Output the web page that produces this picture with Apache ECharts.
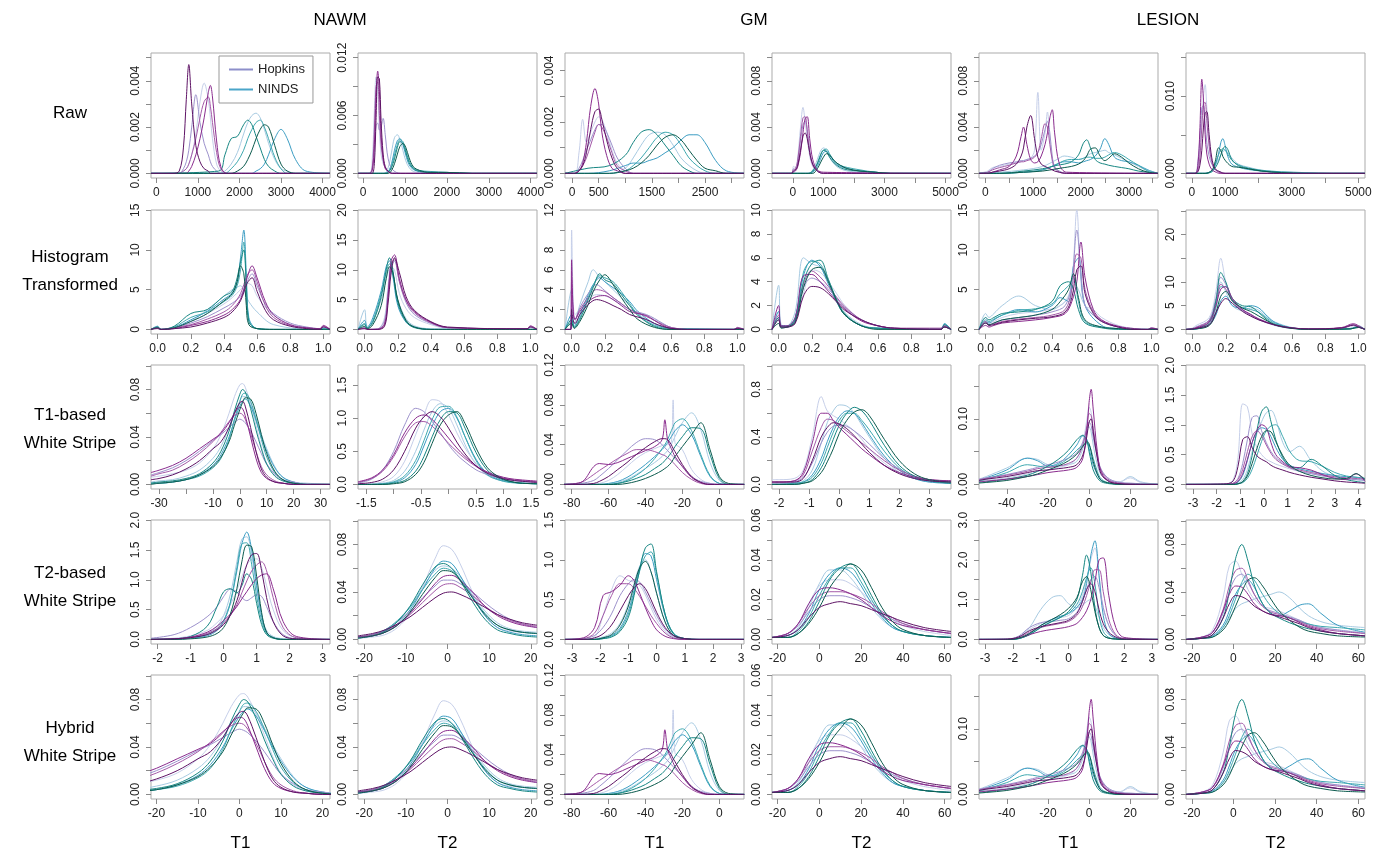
<!DOCTYPE html>
<html>
<head>
<meta charset="utf-8">
<script src="https://cdn.jsdelivr.net/npm/echarts@6/dist/echarts.min.js"></script>
<style>
  html, body { margin: 0; background: #fff; }
  #chart { width: 1382px; height: 850px; }
</style>
</head>
<body>
<div id="chart"></div>
<script>
// ---- Raw ----
const raw_nawm_t1_hx = [-130, 400, 550, 650, 720, 780, 850, 950, 1050, 1150, 1250, 1300, 1350, 1450, 1550, 1700, 4180];
const raw_nawm_t1_h = [
  [0,0,0,0.0001,0.0002,0.0004,0.0008,0.0017,0.0031,0.0039,0.0032,0.0024,0.0015,0.0004,0.0001,0,0],
  [0,0,0,0.0002,0.0005,0.0010,0.0020,0.0034,0.0022,0.0013,0.0008,0.0005,0.0003,0.0001,0,0,0],
  [0,0,0,0,0,0.0001,0.0003,0.0008,0.0015,0.0024,0.0035,0.0038,0.0033,0.0014,0.0003,0,0],
  [0,0,0.0001,0.0011,0.0032,0.0047,0.0030,0.0012,0.0005,0.0002,0.0001,0,0,0,0,0,0],
  [0,0,0,0.0001,0.0002,0.0004,0.0008,0.0015,0.0024,0.0031,0.0033,0.0029,0.0022,0.0009,0.0002,0,0]
];
const raw_nawm_t1_nx = [-130, 1500, 1650, 1800, 1950, 2100, 2200, 2300, 2400, 2500, 2600, 2700, 2850, 3000, 3150, 3350, 3600, 4180];
const raw_nawm_t1_n = [
  [0,0,0.0001,0.0004,0.0009,0.0017,0.0022,0.0025,0.0026,0.0024,0.0019,0.0013,0.0006,0.0002,0.0001,0,0,0],
  [0,0,0,0,0,0,0,0,0.0001,0.0002,0.0004,0.0008,0.0015,0.0019,0.0015,0.0006,0.0001,0],
  [0,0.0001,0.0008,0.0015,0.0016,0.0021,0.0023,0.0021,0.0016,0.0011,0.0006,0.0003,0.0001,0,0,0,0,0],
  [0,0,0,0,0.0001,0.0003,0.0006,0.0010,0.0015,0.0019,0.0021,0.0020,0.0012,0.0004,0.0001,0,0,0],
  [0,0,0,0.0002,0.0005,0.0010,0.0015,0.0019,0.0022,0.0023,0.0020,0.0015,0.0007,0.0002,0,0,0,0]
];
const raw_nawm_t2_hx = [-120, 150, 220, 270, 310, 350, 390, 430, 480, 530, 600, 700, 900, 4150];
const raw_nawm_t2_h = [
  [0,0,0.0015,0.0065,0.0100,0.0085,0.0045,0.0020,0.0010,0.0006,0.0003,0.0001,0,0],
  [0,0,0.0005,0.0025,0.0050,0.0052,0.0045,0.0048,0.0057,0.0040,0.0015,0.0004,0,0],
  [0,0,0.0003,0.0030,0.0080,0.0106,0.0085,0.0040,0.0015,0.0005,0.0002,0,0,0],
  [0,0,0,0.0010,0.0055,0.0100,0.0098,0.0055,0.0020,0.0007,0.0002,0,0,0],
  [0,0,0.0006,0.0045,0.0090,0.0095,0.0060,0.0030,0.0014,0.0006,0.0002,0,0,0]
];
const raw_nawm_t2_nx = [-120, 500, 600, 680, 750, 820, 880, 950, 1020, 1100, 1200, 1350, 1600, 2000, 2600, 4150];
const raw_nawm_t2_n = [
  [0,0,0.0006,0.0022,0.0037,0.0040,0.0035,0.0024,0.0013,0.0006,0.0002,0.0001,0,0,0,0],
  [0,0,0.0002,0.0010,0.0024,0.0034,0.0036,0.0030,0.0019,0.0009,0.0004,0.0002,0.0001,0,0,0],
  [0,0,0.0001,0.0006,0.0015,0.0027,0.0033,0.0031,0.0022,0.0011,0.0005,0.0002,0.0001,0.0001,0,0],
  [0,0,0,0.0003,0.0010,0.0020,0.0028,0.0031,0.0027,0.0016,0.0007,0.0003,0.0001,0.0001,0,0],
  [0,0,0.0001,0.0008,0.0019,0.0030,0.0035,0.0033,0.0024,0.0013,0.0006,0.0003,0.0002,0.0001,0,0]
];
const raw_gm_t1_hx = [-133, 50, 130, 200, 270, 350, 430, 500, 560, 650, 750, 850, 1000, 1150, 3234];
const raw_gm_t1_h = [
  [0,0,0.0008,0.0021,0.0012,0.0016,0.0020,0.0022,0.0021,0.0016,0.0009,0.0004,0.0001,0,0],
  [0,0,0.0002,0.0005,0.0009,0.0013,0.0017,0.0019,0.0019,0.0016,0.0011,0.0006,0.0002,0,0],
  [0,0,0.0001,0.0004,0.0012,0.0026,0.0033,0.0027,0.0016,0.0007,0.0002,0.0001,0,0,0],
  [0,0,0.0001,0.0003,0.0008,0.0017,0.0024,0.0025,0.0021,0.0013,0.0006,0.0002,0,0,0],
  [0,0,0.0001,0.0003,0.0006,0.0011,0.0016,0.0019,0.0018,0.0014,0.0008,0.0003,0.0001,0,0]
];
const raw_gm_t1_nx = [-133, 300, 700, 1000, 1150, 1300, 1450, 1600, 1750, 1900, 2050, 2200, 2350, 2500, 2700, 2900, 3234];
const raw_gm_t1_n = [
  [0,0,0,0.0002,0.0006,0.0011,0.0015,0.0016,0.0015,0.0011,0.0006,0.0003,0.0001,0,0,0,0],
  [0,0,0.0001,0.0003,0.0004,0.0004,0.0005,0.0006,0.0008,0.0010,0.0013,0.0015,0.0015,0.0012,0.0005,0.0001,0],
  [0,0.0002,0.0003,0.0007,0.0012,0.0016,0.0017,0.0015,0.0011,0.0007,0.0003,0.0001,0,0,0,0,0],
  [0,0,0,0.0001,0.0002,0.0004,0.0007,0.0011,0.0014,0.0015,0.0013,0.0009,0.0005,0.0002,0.0001,0,0],
  [0,0,0,0.0001,0.0003,0.0006,0.0010,0.0014,0.0016,0.0015,0.0011,0.0006,0.0003,0.0001,0,0,0]
];
const raw_gm_t2_hx = [-685, -50, 20, 80, 150, 250, 330, 400, 470, 550, 650, 800, 1000, 5180];
const raw_gm_t2_h = [
  [0,0,0.0006,0.0005,0.0012,0.0040,0.0057,0.0045,0.0030,0.0015,0.0006,0.0002,0,0],
  [0,0,0.0004,0.0003,0.0008,0.0028,0.0042,0.0045,0.0038,0.0020,0.0008,0.0002,0,0],
  [0,0,0.0001,0.0002,0.0005,0.0018,0.0035,0.0047,0.0049,0.0030,0.0012,0.0003,0.0001,0],
  [0,0,0.0002,0.0003,0.0006,0.0020,0.0032,0.0035,0.0030,0.0018,0.0008,0.0002,0,0],
  [0,0,0.0003,0.0004,0.0010,0.0032,0.0048,0.0049,0.0036,0.0018,0.0007,0.0002,0,0]
];
const raw_gm_t2_nx = [-685, 500, 650, 800, 900, 1000, 1100, 1200, 1350, 1550, 1800, 2200, 2700, 3200, 5180];
const raw_gm_t2_n = [
  [0,0,0.0003,0.0012,0.0019,0.0022,0.0020,0.0014,0.0008,0.0004,0.0002,0.0001,0,0,0],
  [0,0,0.0001,0.0006,0.0012,0.0018,0.0019,0.0016,0.0010,0.0006,0.0004,0.0002,0.0001,0,0],
  [0,0,0.0002,0.0008,0.0015,0.0020,0.0019,0.0014,0.0009,0.0005,0.0003,0.0002,0.0001,0,0],
  [0,0,0,0.0004,0.0009,0.0014,0.0017,0.0016,0.0011,0.0007,0.0004,0.0002,0.0001,0,0],
  [0,0,0.0002,0.0009,0.0016,0.0020,0.0021,0.0017,0.0011,0.0007,0.0005,0.0003,0.0001,0,0]
];
const raw_les_t1_hx = [-130, 50, 150, 300, 500, 650, 750, 800, 870, 950, 1030, 1100, 1170, 1250, 1300, 1350, 1400, 1450, 1550, 1700, 3610];
const raw_les_t1_h = [
  [0,0.0002,0.0005,0.0006,0.0008,0.0009,0.0010,0.0011,0.0012,0.0013,0.0020,0.0070,0.0020,0.0035,0.0053,0.0030,0.0010,0.0004,0.0001,0,0],
  [0,0.0001,0.0004,0.0007,0.0009,0.0010,0.0011,0.0011,0.0012,0.0013,0.0015,0.0018,0.0025,0.0038,0.0045,0.0035,0.0015,0.0006,0.0002,0,0],
  [0,0,0.0001,0.0003,0.0006,0.0015,0.0032,0.0040,0.0025,0.0012,0.0009,0.0010,0.0015,0.0025,0.0035,0.0048,0.0055,0.0035,0.0008,0.0001,0],
  [0,0,0.0001,0.0002,0.0004,0.0008,0.0015,0.0022,0.0040,0.0050,0.0030,0.0014,0.0008,0.0006,0.0005,0.0004,0.0003,0.0002,0.0001,0,0],
  [0,0.0001,0.0003,0.0005,0.0007,0.0009,0.0010,0.0010,0.0011,0.0012,0.0014,0.0018,0.0030,0.0043,0.0040,0.0025,0.0012,0.0005,0.0001,0,0]
];
const raw_les_t1_nx = [-130, 300, 800, 1200, 1500, 1650, 1800, 1950, 2050, 2120, 2200, 2300, 2400, 2500, 2580, 2700, 2850, 3000, 3200, 3400, 3610];
const raw_les_t1_n = [
  [0,0.0001,0.0003,0.0006,0.0012,0.0015,0.0014,0.0012,0.0013,0.0015,0.0017,0.0018,0.0019,0.0020,0.0018,0.0016,0.0013,0.0010,0.0006,0.0002,0],
  [0,0,0.0001,0.0003,0.0008,0.0010,0.0010,0.0009,0.0010,0.0011,0.0012,0.0015,0.0021,0.0030,0.0025,0.0014,0.0011,0.0010,0.0007,0.0003,0],
  [0,0,0.0002,0.0004,0.0007,0.0008,0.0010,0.0016,0.0026,0.0029,0.0022,0.0012,0.0009,0.0008,0.0007,0.0006,0.0005,0.0004,0.0002,0.0001,0],
  [0,0,0.0001,0.0002,0.0004,0.0005,0.0006,0.0008,0.0011,0.0015,0.0021,0.0022,0.0015,0.0011,0.0013,0.0017,0.0014,0.0009,0.0004,0.0001,0],
  [0,0,0.0001,0.0003,0.0008,0.0011,0.0012,0.0012,0.0013,0.0014,0.0014,0.0013,0.0013,0.0014,0.0016,0.0018,0.0016,0.0012,0.0007,0.0002,0]
];
const raw_les_t2_hx = [-175, 100, 180, 240, 300, 350, 400, 450, 520, 600, 700, 850, 1000, 5200];
const raw_les_t2_h = [
  [0,0,0.0008,0.0030,0.0070,0.0100,0.0115,0.0085,0.0040,0.0015,0.0005,0.0001,0,0],
  [0,0,0.0015,0.0045,0.0085,0.0088,0.0065,0.0040,0.0022,0.0012,0.0005,0.0002,0,0],
  [0,0,0.0010,0.0055,0.0122,0.0095,0.0050,0.0025,0.0012,0.0005,0.0002,0,0,0],
  [0,0,0.0002,0.0010,0.0030,0.0060,0.0078,0.0080,0.0050,0.0020,0.0006,0.0002,0,0],
  [0,0,0.0004,0.0020,0.0060,0.0090,0.0092,0.0068,0.0035,0.0015,0.0005,0.0001,0,0]
];
const raw_les_t2_nx = [-175, 400, 600, 700, 800, 870, 930, 1000, 1080, 1200, 1400, 1700, 2100, 2700, 3400, 4200, 5200];
const raw_les_t2_n = [
  [0,0,0.0004,0.0010,0.0018,0.0024,0.0028,0.0030,0.0027,0.0020,0.0012,0.0008,0.0004,0.0002,0.0001,0,0],
  [0,0,0.0003,0.0010,0.0025,0.0040,0.0045,0.0036,0.0022,0.0012,0.0008,0.0005,0.0003,0.0001,0,0,0],
  [0,0,0.0002,0.0007,0.0015,0.0024,0.0031,0.0035,0.0031,0.0018,0.0010,0.0006,0.0003,0.0001,0,0,0],
  [0,0,0.0004,0.0015,0.0033,0.0030,0.0022,0.0017,0.0013,0.0009,0.0008,0.0006,0.0003,0.0001,0,0,0],
  [0,0,0.0003,0.0012,0.0024,0.0030,0.0032,0.0030,0.0025,0.0017,0.0011,0.0007,0.0004,0.0002,0.0001,0,0]
];

// ---- Histogram transformed ----
const hist_nawm_t1_hx = [-0.04, 0, 0.02, 0.1, 0.2, 0.3, 0.4, 0.45, 0.5, 0.54, 0.57, 0.6, 0.65, 0.7, 0.8, 0.9, 0.98, 1.0, 1.04];
const hist_nawm_t1_h = [
  [0,0.3,0,0.3,1.0,2.0,3.2,4.0,5.0,5.8,5.5,4.2,2.8,1.8,0.6,0.2,0.1,0.4,0],
  [0,0.2,0,0.2,0.8,1.6,2.7,3.3,4.2,6.0,7.0,5.5,3.2,2.0,0.8,0.3,0.1,0.3,0],
  [0,0.2,0,0.1,0.5,1.0,1.8,2.5,3.8,6.5,8.0,6.5,3.5,1.8,0.6,0.2,0.1,0.5,0],
  [0,0.1,0,0.1,0.3,0.8,1.5,2.2,3.6,5.8,6.5,4.8,2.4,1.2,0.4,0.1,0,0.3,0],
  [0,0.2,0,0.2,0.6,1.3,2.2,3.0,4.5,6.8,7.5,6.0,3.0,1.5,0.5,0.2,0.1,0.4,0]
];
const hist_nawm_t1_nx = [-0.04, 0, 0.02, 0.1, 0.2, 0.3, 0.4, 0.45, 0.48, 0.5, 0.52, 0.535, 0.55, 0.6, 0.7, 0.98, 1.0, 1.04];
const hist_nawm_t1_n = [
  [0,0.2,0,0.3,1.0,2.5,4.2,5.0,5.3,5.5,5.0,4.2,3.5,2.2,0.6,0,0.2,0],
  [0,0.4,0,0.2,1.2,2.3,3.8,4.6,6,9,12.5,7,1.5,0.1,0,0,0.1,0],
  [0,0.3,0,0.4,2.0,2.5,4.2,4.8,6.5,8.5,10,5.5,1.0,0.1,0,0,0,0],
  [0,0.2,0,0.2,1.0,2.0,3.6,4.5,6.0,8.0,7.0,3.0,0.6,0.1,0,0,0,0],
  [0,0.3,0,0.3,1.5,2.2,3.5,4.3,5.5,7.5,11,6,1.2,0.1,0,0,0.1,0]
];
const hist_nawm_t2_hx = [-0.04, 0, 0.02, 0.08, 0.12, 0.14, 0.16, 0.18, 0.21, 0.25, 0.3, 0.4, 0.5, 0.98, 1.0, 1.04];
const hist_nawm_t2_h = [
  [0,0.5,0,0.1,2,7,10.5,10,6,3.5,2.0,0.8,0.2,0.1,0.4,0],
  [0,0.3,0,0.1,1.5,6,10,11.5,8,4.5,2.5,1.0,0.3,0.1,0.3,0],
  [0,0.2,0,0,0.8,5,11.5,12.5,8.5,5,3,1.2,0.3,0.1,0.6,0],
  [0,0.1,0,0,0.5,4,9.5,12,9.5,5.5,3.2,1.3,0.4,0.1,0.4,0],
  [0,0.2,0,0.05,1.0,5.5,10.8,11.8,8.0,4.8,2.8,1.1,0.3,0.1,0.5,0]
];
const hist_nawm_t2_nx = [-0.04, 0, 0.015, 0.05, 0.1, 0.13, 0.15, 0.17, 0.2, 0.25, 0.3, 0.4, 1.04];
const hist_nawm_t2_n = [
  [0,3.3,0.5,1.5,5,8.5,10,9,5,1.8,0.6,0.1,0],
  [0,1.5,0.3,2.0,6.5,10.5,11.5,9,4,1.2,0.4,0,0],
  [0,0.8,0.2,1.2,5.5,10,12,10,4.5,1.3,0.3,0,0],
  [0,0.5,0.1,0.8,4,8.5,10.5,9.5,5,1.5,0.4,0,0],
  [0,1.0,0.2,1.5,6,9.5,11,9.5,4.8,1.5,0.4,0,0]
];
const hist_gm_t1_hx = [-0.04, -0.005, 0, 0.008, 0.02, 0.05, 0.1, 0.15, 0.2, 0.25, 0.3, 0.35, 0.45, 0.5, 0.55, 0.6, 0.7, 0.98, 1.0, 1.04];
const hist_gm_t1_h = [
  [0,0,10,4,1.5,2,3,3.5,3.4,3.0,2.5,2.0,1.4,1.0,0.6,0.2,0,0,0.1,0],
  [0,0,4,2,1,2.2,3.6,4.5,3.9,3.2,2.6,2.0,1.5,1.1,0.6,0.2,0,0,0.1,0],
  [0,0,7,2.5,1,1.8,2.8,3.3,3.4,3.0,2.4,1.8,1.4,0.9,0.4,0.1,0,0,0.2,0],
  [0,0,2,1,0.6,1.5,2.5,3.0,2.8,2.4,2.0,1.5,1.0,0.6,0.3,0.1,0,0,0.1,0],
  [0,0,5,2,1,2,3.2,4.0,3.8,3.2,2.6,2.0,1.3,0.9,0.5,0.2,0,0,0.1,0]
];
const hist_gm_t1_nx = [-0.04, 0, 0.015, 0.05, 0.1, 0.13, 0.17, 0.2, 0.25, 0.3, 0.35, 0.4, 0.5, 0.6, 1.04];
const hist_gm_t1_n = [
  [0,4,0.5,2.5,4.8,6.0,5.2,4.8,4.0,3.2,2.4,1.6,0.5,0.1,0],
  [0,1.5,0.3,1.5,3.5,4.5,5.2,4.8,4.2,3.6,2.8,1.8,0.6,0.1,0],
  [0,1.0,0.2,1.0,3.0,4.2,5.6,5.0,4.6,3.5,2.4,1.4,0.3,0,0],
  [0,0.6,0.1,0.8,2.5,3.8,5.0,5.5,4.5,3.2,2.0,1.0,0.2,0,0],
  [0,0.8,0.2,1.2,3.2,4.4,5.4,5.2,4.8,3.8,2.6,1.5,0.4,0.1,0]
];
const hist_gm_t2_hx = [-0.04, 0, 0.015, 0.05, 0.1, 0.15, 0.2, 0.25, 0.3, 0.35, 0.4, 0.5, 0.6, 0.7, 0.98, 1.0, 1.04];
const hist_gm_t2_h = [
  [0,1.5,0.3,0.2,0.8,3.0,5.0,4.8,4.0,3.0,2.0,0.8,0.3,0.1,0,0.2,0],
  [0,1,0.2,0.2,0.6,3.5,4.3,4.0,3.4,2.6,1.8,0.8,0.3,0.1,0,0.2,0],
  [0,2,0.3,0.3,1.0,4.5,4.6,4.0,3.2,2.4,1.7,0.7,0.3,0.1,0.1,0.3,0],
  [0,0.8,0.2,0.2,0.5,2.8,3.6,3.5,3.0,2.3,1.6,0.8,0.3,0.1,0,0.2,0],
  [0,1.2,0.2,0.2,0.7,3.8,4.9,4.4,3.6,2.7,1.9,0.8,0.3,0.1,0,0.2,0]
];
const hist_gm_t2_nx = [-0.04, 0, 0.015, 0.05, 0.1, 0.15, 0.2, 0.25, 0.3, 0.35, 0.4, 0.5, 0.6, 0.98, 1.0, 1.04];
const hist_gm_t2_n = [
  [0,3.7,0.4,0.3,1.5,6.0,5.5,5.2,4.0,2.5,1.4,0.4,0.1,0,0.3,0],
  [0,1.5,0.3,0.3,1.0,4.5,5.8,5.3,3.8,2.3,1.2,0.3,0.1,0,0.5,0],
  [0,1,0.2,0.2,0.8,4,5.5,5.8,4.2,2.5,1.3,0.3,0.1,0,0.4,0],
  [0,0.5,0.1,0.2,0.6,3.5,5.0,5.2,4.0,2.4,1.2,0.3,0,0,0.2,0],
  [0,0.8,0.2,0.2,0.9,4.8,5.7,5.5,4.1,2.4,1.2,0.3,0.1,0,0.4,0]
];
const hist_les_t1_hx = [-0.04, 0, 0.02, 0.05, 0.1, 0.2, 0.3, 0.4, 0.48, 0.52, 0.55, 0.575, 0.6, 0.65, 0.7, 0.8, 0.9, 0.98, 1.0, 1.04];
const hist_les_t1_h = [
  [0,1.5,0.8,1.0,1.5,2.0,2.2,2.6,3.5,6,15,6,3.0,2.5,1.5,0.5,0.1,0,0.2,0],
  [0,1,0.5,0.8,1.2,1.5,1.8,2.2,3.0,6,12.5,7,3,1.8,1.0,0.3,0,0,0.1,0],
  [0,0.5,0.3,0.5,0.8,1.0,1.2,1.5,2.0,3.5,6,11,6.5,2.5,1.2,0.4,0.1,0,0.2,0],
  [0,0.8,0.5,0.6,0.9,1.2,1.4,1.6,2.2,4,7.5,8,4.5,2.0,1.0,0.3,0,0,0.1,0],
  [0,1,0.6,0.7,1.0,1.3,1.5,1.8,2.5,5,9.5,9,5,2.2,1.1,0.3,0,0,0.1,0]
];
const hist_les_t1_nx = [-0.04, 0, 0.02, 0.05, 0.1, 0.2, 0.3, 0.4, 0.45, 0.5, 0.53, 0.56, 0.6, 0.7, 0.8, 0.9, 1.04];
const hist_les_t1_n = [
  [0,2.0,1.5,2.0,3.0,4.2,3.0,2.5,3.0,4.0,6.0,5.0,3.0,1.0,0.3,0,0],
  [0,1,0.8,1.2,1.8,2.5,2.2,3.0,4.0,3.5,8,9,3.0,0.5,0.1,0,0],
  [0,1.5,1.2,1.5,2.0,2.2,2.5,3.5,5.5,6.0,5.0,2.5,0.8,0.2,0,0,0],
  [0,0.8,0.6,0.8,1.2,1.5,1.8,2.5,3.5,5.0,7.0,4.0,1.2,0.3,0.1,0,0],
  [0,1.2,1.0,1.3,1.8,2.4,2.6,3.2,4.5,5.5,6.5,3.5,1.0,0.3,0.1,0,0]
];
const hist_les_t2_hx = [-0.04, 0, 0.02, 0.1, 0.14, 0.17, 0.2, 0.24, 0.3, 0.35, 0.4, 0.5, 0.6, 0.7, 0.9, 0.97, 1.0, 1.04];
const hist_les_t2_h = [
  [0,0.3,0.8,2.5,8,15,10,6,4,3,2.2,1.0,0.3,0.1,0.3,1.0,0.6,0],
  [0,0.2,0.5,2,6.5,11,9.5,6,4,3,2,0.8,0.2,0.1,0.2,0.8,0.5,0],
  [0,0.1,0.3,1.5,5,8.5,9,6.5,4.2,3.2,2.2,0.9,0.3,0.1,0.4,1.2,0.8,0],
  [0,0.1,0.2,1,3.5,5.5,6.5,5.5,3.8,2.8,2.0,0.9,0.3,0.1,0.3,0.9,0.5,0],
  [0,0.2,0.4,1.8,5.5,9.5,8.5,6.2,4.2,3.1,2.1,0.9,0.3,0.1,0.3,1.0,0.6,0]
];
const hist_les_t2_nx = [-0.04, 0.02, 0.1, 0.14, 0.17, 0.2, 0.24, 0.3, 0.35, 0.4, 0.45, 0.5, 0.6, 0.7, 0.95, 1.0, 1.04];
const hist_les_t2_n = [
  [0,0.2,2,6,10,8,5,4,4.5,4,2.5,1.5,0.4,0.1,0.2,0.8,0],
  [0,0.1,1,3,6,7,5,4.5,5,4.5,2.8,1.4,0.3,0.1,0.2,0.6,0],
  [0,0.2,1.5,6,12,10,6.5,5,4.8,3.5,2,1.0,0.3,0,0.1,0.5,0],
  [0,0.1,0.8,3.5,7,8,6,4.5,3.8,2.8,1.8,0.9,0.2,0,0.1,0.4,0],
  [0,0.1,1.2,4.5,9,9,6,4.6,4.2,3.6,2.3,1.2,0.3,0,0.1,0.5,0]
];

// ---- T1-based White Stripe (also the T1 columns of Hybrid) ----
const ws1_nawm_t1_x = [-33, -30, -25, -20, -15, -10, -7, -4, -2, 0, 1, 2, 4, 6, 8, 10, 13, 16, 20, 25, 33.5];
const ws1_nawm_t1_h = [
  [0.006,0.007,0.009,0.012,0.018,0.030,0.042,0.060,0.074,0.084,0.085,0.082,0.068,0.050,0.032,0.018,0.008,0.003,0.001,0,0],
  [0.008,0.010,0.014,0.020,0.028,0.037,0.042,0.048,0.052,0.055,0.054,0.052,0.045,0.036,0.026,0.017,0.009,0.004,0.002,0,0],
  [0.010,0.012,0.016,0.022,0.030,0.038,0.043,0.052,0.060,0.065,0.064,0.058,0.040,0.022,0.010,0.005,0.002,0.001,0,0,0],
  [0.004,0.005,0.008,0.013,0.020,0.030,0.036,0.048,0.060,0.069,0.070,0.066,0.048,0.028,0.013,0.006,0.002,0.001,0,0,0],
  [0.007,0.009,0.012,0.018,0.026,0.036,0.044,0.053,0.058,0.060,0.059,0.055,0.043,0.028,0.015,0.008,0.003,0.001,0,0,0]
];
const ws1_nawm_t1_n = [
  [0.002,0.003,0.004,0.007,0.012,0.022,0.032,0.048,0.060,0.070,0.074,0.074,0.068,0.056,0.042,0.030,0.015,0.006,0.002,0.001,0],
  [0.001,0.001,0.002,0.004,0.008,0.016,0.025,0.040,0.054,0.066,0.070,0.072,0.066,0.054,0.040,0.028,0.014,0.006,0.002,0,0],
  [0.001,0.002,0.003,0.005,0.009,0.018,0.028,0.045,0.062,0.076,0.080,0.078,0.064,0.046,0.030,0.017,0.007,0.003,0.001,0,0],
  [0,0.001,0.002,0.004,0.008,0.015,0.023,0.036,0.050,0.063,0.069,0.073,0.072,0.060,0.042,0.026,0.011,0.004,0.001,0,0],
  [0.001,0.001,0.002,0.004,0.007,0.014,0.022,0.038,0.055,0.070,0.076,0.077,0.070,0.055,0.038,0.023,0.010,0.004,0.001,0,0]
];
const ws1_nawm_t2_x = [-1.65, -1.4, -1.2, -1.0, -0.8, -0.6, -0.45, -0.3, -0.15, 0, 0.15, 0.3, 0.5, 0.7, 0.9, 1.1, 1.3, 1.61];
const ws1_nawm_t2_h = [
  [0,0.01,0.04,0.12,0.35,0.75,1.05,1.28,1.25,1.05,0.78,0.55,0.32,0.18,0.10,0.06,0.04,0.02],
  [0.02,0.08,0.22,0.5,0.9,1.15,1.1,0.95,0.78,0.6,0.45,0.34,0.22,0.15,0.10,0.07,0.05,0.03],
  [0.04,0.10,0.22,0.45,0.78,1.0,1.05,0.98,0.85,0.7,0.55,0.42,0.28,0.19,0.13,0.09,0.07,0.05],
  [0.01,0.03,0.08,0.22,0.5,0.85,1.02,1.1,1.02,0.85,0.64,0.46,0.28,0.17,0.11,0.07,0.05,0.03],
  [0.03,0.09,0.2,0.42,0.72,0.93,0.95,0.88,0.76,0.62,0.5,0.39,0.27,0.18,0.12,0.08,0.06,0.04]
];
const ws1_nawm_t2_n = [
  [0,0,0.02,0.06,0.2,0.5,0.82,1.1,1.22,1.15,0.9,0.6,0.3,0.14,0.07,0.04,0.02,0.01],
  [0,0,0.01,0.03,0.1,0.3,0.58,0.88,1.1,1.15,1.0,0.72,0.38,0.17,0.08,0.04,0.02,0.01],
  [0,0,0,0.02,0.06,0.2,0.42,0.72,0.98,1.1,1.08,0.85,0.48,0.22,0.1,0.05,0.02,0.01],
  [0,0,0,0.01,0.04,0.15,0.33,0.62,0.9,1.05,1.1,0.92,0.55,0.26,0.12,0.05,0.02,0.01],
  [0,0,0.01,0.04,0.13,0.36,0.66,0.98,1.17,1.18,1.02,0.72,0.36,0.15,0.07,0.03,0.02,0.01]
];
const ws1_gm_t1_x = [-85, -75, -68, -65, -60, -55, -50, -45, -40, -35, -31, -29.5, -28, -26, -25, -24, -20, -15, -10, -5, 0, 5, 13.5];
const ws1_gm_t1_h = [
  [0,0,0,0.001,0.004,0.010,0.018,0.026,0.032,0.036,0.039,0.040,0.040,0.042,0.085,0.042,0.035,0.015,0.005,0.001,0,0,0],
  [0,0.001,0.004,0.008,0.016,0.025,0.034,0.042,0.046,0.045,0.040,0.037,0.034,0.030,0.028,0.026,0.018,0.008,0.003,0.001,0,0,0],
  [0,0.002,0.018,0.021,0.020,0.022,0.026,0.030,0.034,0.038,0.045,0.065,0.045,0.036,0.032,0.028,0.018,0.007,0.002,0,0,0,0],
  [0,0,0.001,0.003,0.008,0.015,0.022,0.030,0.037,0.043,0.046,0.046,0.045,0.040,0.036,0.033,0.020,0.008,0.002,0,0,0,0],
  [0,0.002,0.010,0.014,0.020,0.026,0.031,0.035,0.035,0.033,0.030,0.029,0.027,0.024,0.022,0.020,0.012,0.005,0.001,0,0,0,0]
];
const ws1_gm_t1_n = [
  [0,0,0,0,0,0.002,0.005,0.010,0.016,0.022,0.028,0.031,0.034,0.040,0.044,0.048,0.062,0.072,0.055,0.022,0.004,0,0],
  [0,0,0,0,0.001,0.003,0.007,0.013,0.020,0.028,0.035,0.038,0.042,0.048,0.051,0.054,0.060,0.050,0.028,0.008,0.001,0,0],
  [0,0,0,0,0,0.001,0.003,0.006,0.010,0.016,0.021,0.024,0.027,0.032,0.035,0.038,0.048,0.057,0.056,0.030,0.006,0,0],
  [0,0,0,0,0,0,0.001,0.003,0.006,0.010,0.014,0.016,0.018,0.022,0.025,0.028,0.038,0.050,0.062,0.035,0.008,0.001,0],
  [0,0,0,0,0,0.001,0.004,0.009,0.016,0.026,0.036,0.040,0.045,0.054,0.058,0.062,0.066,0.054,0.030,0.009,0.001,0,0]
];
const ws1_gm_t2_x = [-2.24, -2, -1.5, -1.2, -0.9, -0.6, -0.4, -0.2, 0, 0.25, 0.5, 0.75, 1, 1.5, 2, 2.5, 3, 3.72];
const ws1_gm_t2_h = [
  [0.04,0.04,0.05,0.12,0.40,0.74,0.62,0.58,0.55,0.50,0.45,0.38,0.30,0.18,0.10,0.05,0.03,0.01],
  [0.01,0.01,0.02,0.06,0.18,0.35,0.44,0.49,0.50,0.49,0.45,0.40,0.34,0.22,0.13,0.07,0.04,0.02],
  [0.02,0.02,0.03,0.10,0.35,0.60,0.60,0.54,0.48,0.42,0.36,0.30,0.25,0.16,0.10,0.06,0.04,0.03],
  [0.02,0.02,0.02,0.05,0.20,0.40,0.48,0.52,0.51,0.47,0.41,0.34,0.27,0.16,0.09,0.05,0.03,0.02],
  [0.02,0.02,0.03,0.08,0.28,0.48,0.55,0.54,0.50,0.45,0.40,0.35,0.30,0.20,0.12,0.07,0.04,0.03]
];
const ws1_gm_t2_n = [
  [0,0,0.01,0.03,0.12,0.35,0.52,0.62,0.67,0.66,0.60,0.50,0.40,0.22,0.10,0.05,0.02,0.01],
  [0,0,0.01,0.02,0.08,0.22,0.36,0.48,0.57,0.62,0.60,0.52,0.42,0.24,0.12,0.05,0.02,0.01],
  [0,0,0,0.01,0.04,0.14,0.25,0.38,0.50,0.60,0.65,0.62,0.54,0.33,0.16,0.07,0.03,0.01],
  [0,0,0,0.01,0.03,0.10,0.19,0.30,0.43,0.54,0.61,0.63,0.58,0.38,0.20,0.09,0.04,0.02],
  [0,0,0.01,0.02,0.06,0.18,0.31,0.44,0.54,0.60,0.60,0.54,0.46,0.28,0.14,0.06,0.03,0.01]
];
const ws1_les_t1_x = [-53.5, -50, -40, -30, -25, -20, -15, -10, -6, -3, -1, 0, 1, 2, 4, 6, 10, 15, 20, 25, 33.5];
const ws1_les_t1_h = [
  [0.005,0.006,0.010,0.016,0.020,0.022,0.026,0.030,0.040,0.065,0.100,0.118,0.110,0.085,0.045,0.022,0.008,0.004,0.010,0.003,0],
  [0.008,0.010,0.015,0.022,0.026,0.030,0.034,0.040,0.048,0.065,0.085,0.095,0.090,0.072,0.042,0.022,0.008,0.003,0.002,0.001,0],
  [0.004,0.005,0.008,0.012,0.015,0.018,0.020,0.022,0.026,0.040,0.085,0.125,0.145,0.115,0.050,0.018,0.004,0.001,0,0,0],
  [0.006,0.008,0.012,0.018,0.021,0.022,0.024,0.026,0.030,0.045,0.075,0.095,0.100,0.080,0.040,0.015,0.004,0.001,0,0,0],
  [0.007,0.009,0.014,0.020,0.024,0.026,0.028,0.032,0.040,0.060,0.090,0.108,0.105,0.085,0.045,0.020,0.006,0.002,0.001,0,0]
];
const ws1_les_t1_n = [
  [0.008,0.012,0.025,0.040,0.038,0.030,0.028,0.030,0.035,0.055,0.080,0.088,0.080,0.060,0.030,0.014,0.006,0.004,0.012,0.004,0],
  [0.006,0.010,0.022,0.040,0.036,0.028,0.032,0.045,0.060,0.074,0.068,0.055,0.042,0.030,0.015,0.006,0.002,0.001,0.001,0,0],
  [0.003,0.004,0.008,0.014,0.020,0.028,0.038,0.052,0.068,0.075,0.065,0.050,0.035,0.022,0.010,0.004,0.001,0,0,0,0],
  [0.002,0.003,0.006,0.012,0.016,0.022,0.028,0.036,0.046,0.058,0.065,0.062,0.050,0.035,0.016,0.006,0.002,0,0,0,0],
  [0.005,0.008,0.018,0.030,0.028,0.026,0.030,0.040,0.052,0.060,0.062,0.060,0.052,0.040,0.020,0.008,0.002,0.001,0,0,0]
];
const ws1_les_t2_x = [-3.3, -1.6, -1.3, -1.1, -0.9, -0.7, -0.5, -0.3, -0.1, 0.1, 0.3, 0.5, 0.8, 1.1, 1.5, 2.0, 2.5, 3.0, 3.5, 3.9, 4.28];
const ws1_les_t2_h = [
  [0,0.01,0.08,0.45,1.35,1.30,0.85,0.62,0.50,0.42,0.38,0.34,0.30,0.26,0.22,0.18,0.15,0.12,0.10,0.09,0.08],
  [0,0,0.02,0.10,0.35,0.75,1.12,1.15,0.90,0.70,0.55,0.45,0.36,0.28,0.22,0.18,0.14,0.11,0.09,0.08,0.07],
  [0,0,0.01,0.05,0.18,0.42,0.70,0.90,1.00,0.95,0.70,0.50,0.38,0.30,0.28,0.24,0.16,0.10,0.08,0.18,0.05],
  [0,0.01,0.06,0.30,0.75,0.80,0.62,0.48,0.42,0.38,0.32,0.28,0.24,0.20,0.16,0.12,0.09,0.06,0.04,0.03,0.02],
  [0,0,0.02,0.08,0.25,0.55,0.80,0.90,0.82,0.66,0.52,0.42,0.34,0.28,0.24,0.20,0.16,0.13,0.11,0.10,0.09]
];
const ws1_les_t2_n = [
  [0,0,0,0.02,0.08,0.25,0.55,0.85,1.05,1.20,1.24,1.10,0.70,0.55,0.64,0.40,0.22,0.14,0.10,0.08,0.06],
  [0,0,0.01,0.04,0.15,0.40,0.70,0.88,0.95,0.92,0.80,0.62,0.42,0.32,0.26,0.22,0.18,0.15,0.13,0.12,0.10],
  [0,0,0,0.01,0.05,0.18,0.48,0.90,1.22,1.30,1.05,0.75,0.45,0.30,0.28,0.42,0.30,0.15,0.08,0.05,0.03],
  [0,0,0,0.01,0.04,0.14,0.35,0.60,0.80,0.90,0.88,0.72,0.48,0.32,0.22,0.15,0.11,0.09,0.10,0.18,0.08],
  [0,0,0,0.01,0.03,0.10,0.25,0.48,0.72,0.90,0.98,1.00,0.80,0.55,0.40,0.38,0.30,0.20,0.14,0.12,0.10]
];

// ---- T2-based White Stripe (also the T2 columns of Hybrid) ----
const ws2_nawm_t1_x = [-2.2, -1.5, -1, -0.5, -0.2, 0, 0.2, 0.4, 0.55, 0.7, 0.85, 1.0, 1.15, 1.3, 1.5, 1.8, 2.2, 3.22];
const ws2_nawm_t1_h = [
  [0.01,0.02,0.06,0.15,0.28,0.40,0.58,0.82,1.05,1.25,1.34,1.35,1.20,0.90,0.50,0.15,0.03,0],
  [0.02,0.08,0.20,0.38,0.55,0.72,0.84,0.80,0.70,0.65,0.70,0.75,0.72,0.55,0.30,0.08,0.01,0],
  [0,0.01,0.04,0.12,0.22,0.32,0.42,0.55,0.68,0.80,0.92,1.02,1.08,1.10,0.85,0.30,0.05,0],
  [0,0.01,0.03,0.08,0.16,0.25,0.40,0.65,0.95,1.25,1.42,1.44,1.15,0.70,0.30,0.06,0.01,0],
  [0,0.01,0.03,0.10,0.18,0.28,0.40,0.58,0.78,0.98,1.15,1.25,1.30,1.15,0.70,0.20,0.03,0]
];
const ws2_nawm_t1_n = [
  [0,0.01,0.03,0.10,0.22,0.40,0.75,1.30,1.68,1.72,1.40,0.85,0.40,0.15,0.05,0.01,0,0],
  [0,0,0.02,0.06,0.15,0.30,0.60,1.15,1.60,1.80,1.50,0.90,0.40,0.12,0.03,0,0,0],
  [0,0.01,0.05,0.22,0.55,0.80,0.85,0.78,0.90,1.10,1.00,0.60,0.25,0.08,0.02,0,0,0],
  [0,0,0.01,0.04,0.10,0.20,0.42,0.85,1.30,1.58,1.55,1.05,0.45,0.12,0.03,0,0,0],
  [0,0.01,0.03,0.08,0.18,0.32,0.62,1.20,1.60,1.62,1.25,0.72,0.32,0.10,0.03,0,0,0]
];
const ws2_nawm_t2_x = [-21.5, -18, -15, -12, -9, -6, -3, -1, 1, 3, 6, 9, 12, 15, 18, 21.5];
const ws2_nawm_t2_h = [
  [0.001,0.002,0.004,0.010,0.022,0.044,0.068,0.079,0.076,0.064,0.040,0.020,0.010,0.007,0.006,0.005],
  [0.002,0.004,0.008,0.015,0.024,0.035,0.045,0.050,0.050,0.047,0.040,0.031,0.023,0.017,0.013,0.010],
  [0.002,0.003,0.006,0.012,0.022,0.034,0.047,0.053,0.054,0.050,0.040,0.028,0.020,0.015,0.012,0.010],
  [0.003,0.005,0.008,0.013,0.019,0.027,0.035,0.039,0.040,0.038,0.033,0.027,0.021,0.017,0.014,0.012],
  [0.002,0.004,0.007,0.013,0.021,0.031,0.041,0.046,0.047,0.044,0.037,0.028,0.021,0.016,0.013,0.011]
];
const ws2_nawm_t2_n = [
  [0.002,0.004,0.008,0.016,0.028,0.044,0.058,0.062,0.060,0.053,0.038,0.024,0.014,0.009,0.007,0.006],
  [0.001,0.003,0.006,0.013,0.025,0.042,0.060,0.066,0.064,0.054,0.036,0.020,0.010,0.006,0.004,0.003],
  [0.002,0.003,0.007,0.015,0.028,0.046,0.061,0.064,0.060,0.050,0.032,0.017,0.008,0.005,0.003,0.002],
  [0.001,0.003,0.006,0.012,0.023,0.038,0.052,0.058,0.057,0.050,0.035,0.021,0.012,0.008,0.006,0.005],
  [0.002,0.004,0.008,0.016,0.027,0.042,0.055,0.060,0.058,0.051,0.036,0.022,0.012,0.008,0.006,0.005]
];
const ws2_gm_t1_x = [-3.25, -2.6, -2.2, -1.9, -1.6, -1.3, -1.0, -0.8, -0.6, -0.4, -0.2, 0, 0.3, 0.6, 1.0, 1.5, 3.1];
const ws2_gm_t1_h = [
  [0,0,0.03,0.3,0.62,0.80,0.74,0.72,0.68,0.56,0.40,0.25,0.10,0.03,0.01,0,0],
  [0,0.01,0.05,0.15,0.32,0.55,0.70,0.75,0.72,0.60,0.45,0.30,0.13,0.04,0.01,0,0],
  [0,0.02,0.15,0.55,0.60,0.68,0.80,0.74,0.58,0.40,0.24,0.12,0.04,0.01,0,0,0],
  [0,0,0.02,0.07,0.18,0.36,0.55,0.65,0.70,0.64,0.50,0.34,0.15,0.05,0.01,0,0],
  [0,0.01,0.08,0.30,0.55,0.70,0.70,0.64,0.54,0.42,0.30,0.20,0.08,0.02,0,0,0]
];
const ws2_gm_t1_n = [
  [0,0,0.01,0.03,0.08,0.20,0.45,0.70,0.92,1.00,0.85,0.58,0.22,0.05,0.01,0,0],
  [0,0,0,0.02,0.05,0.14,0.36,0.62,0.90,1.08,1.05,0.75,0.30,0.07,0.01,0,0],
  [0,0,0,0.01,0.03,0.10,0.28,0.55,0.88,1.15,1.20,0.85,0.32,0.07,0.01,0,0],
  [0,0,0,0.02,0.06,0.18,0.42,0.68,0.90,0.98,0.85,0.58,0.22,0.05,0.01,0,0],
  [0,0,0,0.01,0.04,0.12,0.32,0.58,0.86,1.05,1.10,0.82,0.32,0.08,0.01,0,0]
];
const ws2_gm_t2_x = [-22.6, -15, -10, -5, 0, 5, 10, 15, 20, 25, 30, 35, 40, 50, 63];
const ws2_gm_t2_h = [
  [0.001,0.003,0.008,0.018,0.027,0.030,0.030,0.028,0.024,0.019,0.014,0.010,0.007,0.004,0.002],
  [0.001,0.003,0.007,0.014,0.020,0.022,0.022,0.021,0.019,0.016,0.013,0.010,0.008,0.005,0.003],
  [0.001,0.003,0.008,0.018,0.025,0.026,0.025,0.023,0.020,0.016,0.012,0.009,0.007,0.005,0.003],
  [0.001,0.002,0.005,0.011,0.016,0.018,0.019,0.018,0.017,0.015,0.013,0.011,0.009,0.006,0.004],
  [0.001,0.003,0.008,0.016,0.022,0.024,0.024,0.023,0.021,0.018,0.014,0.011,0.008,0.005,0.003]
];
const ws2_gm_t2_n = [
  [0.001,0.002,0.006,0.016,0.028,0.035,0.035,0.031,0.024,0.016,0.010,0.006,0.004,0.002,0.001],
  [0.001,0.002,0.005,0.013,0.025,0.033,0.036,0.034,0.027,0.018,0.011,0.006,0.004,0.002,0.001],
  [0.001,0.001,0.003,0.009,0.019,0.030,0.036,0.038,0.032,0.022,0.013,0.007,0.004,0.002,0.001],
  [0.001,0.001,0.003,0.008,0.016,0.026,0.033,0.038,0.035,0.026,0.016,0.009,0.005,0.002,0.001],
  [0.001,0.001,0.004,0.011,0.022,0.031,0.036,0.036,0.029,0.020,0.012,0.007,0.004,0.002,0.001]
];
const ws2_les_t1_x = [-3.22, -2.2, -1.8, -1.4, -1.0, -0.6, -0.3, 0, 0.3, 0.5, 0.65, 0.8, 0.95, 1.1, 1.25, 1.45, 1.7, 2.0, 3.22];
const ws2_les_t1_h = [
  [0,0,0.05,0.25,0.40,0.50,0.55,0.60,0.80,1.10,1.50,2.00,2.30,1.60,0.80,0.35,0.10,0.02,0],
  [0,0.01,0.08,0.30,0.42,0.45,0.48,0.52,0.68,0.95,1.25,1.50,1.58,1.30,0.80,0.35,0.10,0.02,0],
  [0,0,0.03,0.12,0.20,0.25,0.28,0.32,0.40,0.55,0.72,1.00,1.45,2.00,2.05,1.10,0.30,0.05,0],
  [0,0.01,0.06,0.22,0.32,0.38,0.42,0.48,0.65,0.95,1.25,1.40,1.20,0.75,0.40,0.18,0.06,0.01,0],
  [0,0,0.04,0.18,0.30,0.36,0.40,0.45,0.60,0.82,1.10,1.45,1.75,1.75,1.20,0.50,0.12,0.02,0]
];
const ws2_les_t1_n = [
  [0,0,0.05,0.30,0.75,1.05,1.10,0.90,0.80,0.85,0.95,1.00,0.85,0.55,0.30,0.12,0.04,0.01,0],
  [0,0,0.02,0.15,0.35,0.50,0.58,0.65,0.80,1.00,1.40,2.10,2.48,1.60,0.60,0.15,0.03,0,0],
  [0,0,0.02,0.12,0.30,0.45,0.55,0.70,1.00,1.60,2.12,1.70,0.80,0.30,0.10,0.03,0.01,0,0],
  [0,0,0.03,0.15,0.35,0.50,0.62,0.78,1.05,1.45,1.58,1.25,0.70,0.30,0.10,0.03,0.01,0,0],
  [0,0,0.02,0.12,0.30,0.45,0.55,0.66,0.88,1.20,1.55,1.80,1.40,0.60,0.20,0.05,0.01,0,0]
];
const ws2_les_t2_x = [-22.8, -15, -10, -5, -2, 1, 4, 7, 10, 14, 18, 22, 27, 32, 36, 42, 50, 63.2];
const ws2_les_t2_h = [
  [0,0.002,0.008,0.035,0.062,0.066,0.055,0.042,0.034,0.028,0.026,0.024,0.020,0.016,0.013,0.010,0.008,0.006],
  [0,0.002,0.006,0.022,0.040,0.052,0.055,0.048,0.038,0.028,0.024,0.022,0.019,0.016,0.013,0.010,0.008,0.005],
  [0,0.002,0.006,0.024,0.038,0.045,0.044,0.038,0.030,0.024,0.021,0.020,0.018,0.014,0.011,0.008,0.005,0.003],
  [0,0.001,0.004,0.018,0.030,0.037,0.036,0.033,0.028,0.024,0.021,0.019,0.016,0.013,0.010,0.007,0.005,0.003],
  [0,0.002,0.006,0.025,0.045,0.058,0.060,0.050,0.038,0.028,0.023,0.021,0.018,0.015,0.012,0.009,0.007,0.005]
];
const ws2_les_t2_n = [
  [0,0.001,0.003,0.010,0.018,0.026,0.030,0.032,0.034,0.036,0.038,0.040,0.035,0.026,0.020,0.015,0.012,0.010],
  [0,0.001,0.003,0.012,0.024,0.038,0.046,0.050,0.044,0.030,0.022,0.020,0.024,0.029,0.030,0.022,0.012,0.006],
  [0,0.001,0.004,0.018,0.040,0.068,0.080,0.066,0.046,0.030,0.022,0.018,0.014,0.011,0.009,0.007,0.005,0.003],
  [0,0.001,0.002,0.008,0.016,0.028,0.040,0.050,0.052,0.045,0.034,0.024,0.016,0.010,0.007,0.005,0.003,0.002],
  [0,0.001,0.002,0.010,0.020,0.034,0.048,0.055,0.050,0.038,0.028,0.022,0.018,0.015,0.013,0.011,0.010,0.008]
];

// ---- tick values and labels ----
const xt_raw_4000 = [0, 1000, 2000, 3000, 4000];
const xt_raw_gm_t1 = [0, 500, 1000, 1500, 2000, 2500, 3000];
const xl_raw_gm_t1 = [0, 500, 1500, 2500];
const xt_raw_5000 = [0, 1000, 2000, 3000, 4000, 5000];
const xl_raw_5000 = [0, 1000, 3000, 5000];
const xt_raw_les_t1 = [0, 500, 1000, 1500, 2000, 2500, 3000, 3500];
const xl_raw_les_t1 = [0, 1000, 2000, 3000];
const xt_unit = [0, 0.2, 0.4, 0.6, 0.8, 1];
const xt_pm30 = [-30, -20, -10, 0, 10, 20, 30];
const xl_pm30 = [-30, -10, 0, 10, 20, 30];
const xt_pm15 = [-1.5, -1, -0.5, 0, 0.5, 1, 1.5];
const xl_pm15 = [-1.5, -0.5, 0.5, 1, 1.5];
const xt_m80_0 = [-80, -60, -40, -20, 0];
const xt_m2_3 = [-2, -1, 0, 1, 2, 3];
const xt_m40_20 = [-40, -20, 0, 20];
const xt_m3_4 = [-3, -2, -1, 0, 1, 2, 3, 4];
const xt_m3_3 = [-3, -2, -1, 0, 1, 2, 3];
const xt_pm20 = [-20, -10, 0, 10, 20];
const xt_m20_60 = [-20, 0, 20, 40, 60];

const yt_raw_nawm_t1 = [0, 0.001, 0.002, 0.003, 0.004, 0.005];
const yl_raw_nawm_t1 = [0, 0.002, 0.004];
const yt_raw_nawm_t2 = [0, 0.003, 0.006, 0.009, 0.012];
const yl_raw_nawm_t2 = [0, 0.006, 0.012];
const yt_raw_gm_t1 = [0, 0.001, 0.002, 0.003, 0.004];
const yl_raw_gm_t1 = [0, 0.002, 0.004];
const yt_raw_010 = [0, 0.002, 0.004, 0.006, 0.008, 0.010];
const yl_raw_010 = [0, 0.004, 0.008];
const yt_raw_les_t2 = [0, 0.005, 0.010, 0.015];
const yl_raw_les_t2 = [0, 0.010];
const yt_0_15 = [0, 5, 10, 15];
const yt_0_20 = [0, 5, 10, 15, 20];
const yt_0_12 = [0, 2, 4, 6, 8, 10, 12];
const yl_0_12 = [0, 2, 4, 6, 8, 12];
const yt_0_10 = [0, 2, 4, 6, 8, 10];
const yt_0_25 = [0, 5, 10, 15, 20, 25];
const yl_0_25 = [0, 5, 10, 20];
const yt_010 = [0, 0.02, 0.04, 0.06, 0.08, 0.10];
const yl_010 = [0, 0.04, 0.08];
const yt_0_15h = [0, 0.5, 1, 1.5];
const yt_012 = [0, 0.02, 0.04, 0.06, 0.08, 0.10, 0.12];
const yl_012 = [0, 0.04, 0.08, 0.12];
const yt_0_1 = [0, 0.2, 0.4, 0.6, 0.8, 1.0];
const yl_0_1 = [0, 0.4, 0.8];
const yt_015 = [0, 0.05, 0.10, 0.15];
const yl_015 = [0, 0.10];
const yt_0_2 = [0, 0.5, 1, 1.5, 2];
const yt_006 = [0, 0.01, 0.02, 0.03, 0.04, 0.05, 0.06];
const yl_006 = [0, 0.02, 0.04, 0.06];
const yt_0_3 = [0, 0.5, 1, 1.5, 2, 2.5, 3];
const yl_0_3 = [0, 1, 2, 3];

const colTitles = ['NAWM', 'GM', 'LESION'];
const rowTitles = [['Raw'], ['Histogram', 'Transformed'], ['T1-based', 'White Stripe'], ['T2-based', 'White Stripe'], ['Hybrid', 'White Stripe']];
const bottomTitles = ['T1', 'T2', 'T1', 'T2', 'T1', 'T2'];

const hopColors = ['#c6cfe9', '#9d92cc', '#8a2c8e', '#5e1365', '#a45aa8'];
const ninColors = ['#a8cbe2', '#3b9dc3', '#178783', '#0c5b4e', '#3fa9b0'];
const drawOrder = [0, 1, 4, 2, 3];

// panels, row by row: Hopkins grid/curves, NINDS grid/curves, x range, ticks, density max M
const panels = [
  { hx: raw_nawm_t1_hx, h: raw_nawm_t1_h, nx: raw_nawm_t1_nx, n: raw_nawm_t1_n, xr: [-130, 4180], xt: xt_raw_4000, xl: xt_raw_4000, xd: 0, M: 0.005, yt: yt_raw_nawm_t1, yl: yl_raw_nawm_t1, yd: 3 },
  { hx: raw_nawm_t2_hx, h: raw_nawm_t2_h, nx: raw_nawm_t2_nx, n: raw_nawm_t2_n, xr: [-120, 4150], xt: xt_raw_4000, xl: xt_raw_4000, xd: 0, M: 0.012, yt: yt_raw_nawm_t2, yl: yl_raw_nawm_t2, yd: 3 },
  { hx: raw_gm_t1_hx, h: raw_gm_t1_h, nx: raw_gm_t1_nx, n: raw_gm_t1_n, xr: [-133, 3234], xt: xt_raw_gm_t1, xl: xl_raw_gm_t1, xd: 0, M: 0.0045, yt: yt_raw_gm_t1, yl: yl_raw_gm_t1, yd: 3 },
  { hx: raw_gm_t2_hx, h: raw_gm_t2_h, nx: raw_gm_t2_nx, n: raw_gm_t2_n, xr: [-685, 5180], xt: xt_raw_5000, xl: xl_raw_5000, xd: 0, M: 0.01, yt: yt_raw_010, yl: yl_raw_010, yd: 3 },
  { hx: raw_les_t1_hx, h: raw_les_t1_h, nx: raw_les_t1_nx, n: raw_les_t1_n, xr: [-130, 3610], xt: xt_raw_les_t1, xl: xl_raw_les_t1, xd: 0, M: 0.01, yt: yt_raw_010, yl: yl_raw_010, yd: 3 },
  { hx: raw_les_t2_hx, h: raw_les_t2_h, nx: raw_les_t2_nx, n: raw_les_t2_n, xr: [-175, 5200], xt: xt_raw_5000, xl: xl_raw_5000, xd: 0, M: 0.015, yt: yt_raw_les_t2, yl: yl_raw_les_t2, yd: 3 },

  { hx: hist_nawm_t1_hx, h: hist_nawm_t1_h, nx: hist_nawm_t1_nx, n: hist_nawm_t1_n, xr: [-0.04, 1.04], xt: xt_unit, xl: xt_unit, xd: 1, M: 14.45, yt: yt_0_15, yl: yt_0_15, yd: 0 },
  { hx: hist_nawm_t2_hx, h: hist_nawm_t2_h, nx: hist_nawm_t2_nx, n: hist_nawm_t2_n, xr: [-0.04, 1.04], xt: xt_unit, xl: xt_unit, xd: 1, M: 19.25, yt: yt_0_20, yl: yt_0_20, yd: 0 },
  { hx: hist_gm_t1_hx, h: hist_gm_t1_h, nx: hist_gm_t1_nx, n: hist_gm_t1_n, xr: [-0.04, 1.04], xt: xt_unit, xl: xt_unit, xd: 1, M: 11.55, yt: yt_0_12, yl: yl_0_12, yd: 0 },
  { hx: hist_gm_t2_hx, h: hist_gm_t2_h, nx: hist_gm_t2_nx, n: hist_gm_t2_n, xr: [-0.04, 1.04], xt: xt_unit, xl: xt_unit, xd: 1, M: 9.62, yt: yt_0_10, yl: yt_0_10, yd: 0 },
  { hx: hist_les_t1_hx, h: hist_les_t1_h, nx: hist_les_t1_nx, n: hist_les_t1_n, xr: [-0.04, 1.04], xt: xt_unit, xl: xt_unit, xd: 1, M: 14.45, yt: yt_0_15, yl: yt_0_15, yd: 0 },
  { hx: hist_les_t2_hx, h: hist_les_t2_h, nx: hist_les_t2_nx, n: hist_les_t2_n, xr: [-0.04, 1.04], xt: xt_unit, xl: xt_unit, xd: 1, M: 24.2, yt: yt_0_25, yl: yl_0_25, yd: 0 },

  { hx: ws1_nawm_t1_x, h: ws1_nawm_t1_h, nx: ws1_nawm_t1_x, n: ws1_nawm_t1_n, xr: [-33, 33.5], xt: xt_pm30, xl: xl_pm30, xd: 0, M: 0.0968, yt: yt_010, yl: yl_010, yd: 2 },
  { hx: ws1_nawm_t2_x, h: ws1_nawm_t2_h, nx: ws1_nawm_t2_x, n: ws1_nawm_t2_n, xr: [-1.65, 1.61], xt: xt_pm15, xl: xl_pm15, xd: 1, M: 1.735, yt: yt_0_15h, yl: yt_0_15h, yd: 1 },
  { hx: ws1_gm_t1_x, h: ws1_gm_t1_h, nx: ws1_gm_t1_x, n: ws1_gm_t1_n, xr: [-83.6, 13.4], xt: xt_m80_0, xl: xt_m80_0, xd: 0, M: 0.1155, yt: yt_012, yl: yl_012, yd: 2 },
  { hx: ws1_gm_t2_x, h: ws1_gm_t2_h, nx: ws1_gm_t2_x, n: ws1_gm_t2_n, xr: [-2.24, 3.72], xt: xt_m2_3, xl: xt_m2_3, xd: 0, M: 0.968, yt: yt_0_1, yl: yl_0_1, yd: 1 },
  { hx: ws1_les_t1_x, h: ws1_les_t1_h, nx: ws1_les_t1_x, n: ws1_les_t1_n, xr: [-53.5, 33.5], xt: xt_m40_20, xl: xt_m40_20, xd: 0, M: 0.175, yt: yt_015, yl: yl_015, yd: 2 },
  { hx: ws1_les_t2_x, h: ws1_les_t2_h, nx: ws1_les_t2_x, n: ws1_les_t2_n, xr: [-3.3, 4.28], xt: xt_m3_4, xl: xt_m3_4, xd: 0, M: 1.925, yt: yt_0_2, yl: yt_0_2, yd: 1 },

  { hx: ws2_nawm_t1_x, h: ws2_nawm_t1_h, nx: ws2_nawm_t1_x, n: ws2_nawm_t1_n, xr: [-2.2, 3.22], xt: xt_m2_3, xl: xt_m2_3, xd: 0, M: 1.925, yt: yt_0_2, yl: yt_0_2, yd: 1 },
  { hx: ws2_nawm_t2_x, h: ws2_nawm_t2_h, nx: ws2_nawm_t2_x, n: ws2_nawm_t2_n, xr: [-21.5, 21.5], xt: xt_pm20, xl: xt_pm20, xd: 0, M: 0.0968, yt: yt_010, yl: yl_010, yd: 2 },
  { hx: ws2_gm_t1_x, h: ws2_gm_t1_h, nx: ws2_gm_t1_x, n: ws2_gm_t1_n, xr: [-3.25, 3.1], xt: xt_m3_3, xl: xt_m3_3, xd: 0, M: 1.443, yt: yt_0_15h, yl: yt_0_15h, yd: 1 },
  { hx: ws2_gm_t2_x, h: ws2_gm_t2_h, nx: ws2_gm_t2_x, n: ws2_gm_t2_n, xr: [-22.6, 63], xt: xt_m20_60, xl: xt_m20_60, xd: 0, M: 0.0578, yt: yt_006, yl: yl_006, yd: 2 },
  { hx: ws2_les_t1_x, h: ws2_les_t1_h, nx: ws2_les_t1_x, n: ws2_les_t1_n, xr: [-3.22, 3.22], xt: xt_m3_3, xl: xt_m3_3, xd: 0, M: 2.886, yt: yt_0_3, yl: yl_0_3, yd: 1 },
  { hx: ws2_les_t2_x, h: ws2_les_t2_h, nx: ws2_les_t2_x, n: ws2_les_t2_n, xr: [-22.8, 63.2], xt: xt_m20_60, xl: xt_m20_60, xd: 0, M: 0.0968, yt: yt_010, yl: yl_010, yd: 2 },

  { hx: ws1_nawm_t1_x, h: ws1_nawm_t1_h, nx: ws1_nawm_t1_x, n: ws1_nawm_t1_n, xr: [-21.3, 21.8], xt: xt_pm20, xl: xt_pm20, xd: 0, M: 0.0968, yt: yt_010, yl: yl_010, yd: 2 },
  { hx: ws2_nawm_t2_x, h: ws2_nawm_t2_h, nx: ws2_nawm_t2_x, n: ws2_nawm_t2_n, xr: [-21.5, 21.5], xt: xt_pm20, xl: xt_pm20, xd: 0, M: 0.0968, yt: yt_010, yl: yl_010, yd: 2 },
  { hx: ws1_gm_t1_x, h: ws1_gm_t1_h, nx: ws1_gm_t1_x, n: ws1_gm_t1_n, xr: [-83.6, 13.4], xt: xt_m80_0, xl: xt_m80_0, xd: 0, M: 0.1155, yt: yt_012, yl: yl_012, yd: 2 },
  { hx: ws2_gm_t2_x, h: ws2_gm_t2_h, nx: ws2_gm_t2_x, n: ws2_gm_t2_n, xr: [-22.6, 63], xt: xt_m20_60, xl: xt_m20_60, xd: 0, M: 0.0578, yt: yt_006, yl: yl_006, yd: 2 },
  { hx: ws1_les_t1_x, h: ws1_les_t1_h, nx: ws1_les_t1_x, n: ws1_les_t1_n, xr: [-53.5, 33.5], xt: xt_m40_20, xl: xt_m40_20, xd: 0, M: 0.175, yt: yt_015, yl: yl_015, yd: 2 },
  { hx: ws2_les_t2_x, h: ws2_les_t2_h, nx: ws2_les_t2_x, n: ws2_les_t2_n, xr: [-22.8, 63.2], xt: xt_m20_60, xl: xt_m20_60, xd: 0, M: 0.0968, yt: yt_010, yl: yl_010, yd: 2 }
];

const FONT = "'Liberation Sans', Arial, Helvetica, sans-serif";
const colLeft = [151, 358, 565, 772, 979, 1186];
const rowTop = [53, 210, 365, 520, 675];
const rowLabelY = [113, 271, 429, 587, 742];
const W = 179, H = 124;

const grids = [], xAxes = [], yAxes = [], series = [];

function curve(xs, ys, color, g, name) {
  return {
    name: name, type: 'line', xAxisIndex: g, yAxisIndex: g,
    data: xs.map((x, i) => [x, ys[i]]),
    showSymbol: false, symbol: 'none', smooth: 0.35, silent: true,
    lineStyle: { width: 1, color: color }, itemStyle: { color: color }
  };
}

// legend-only series
series.push({ name: 'Hopkins', type: 'line', data: [], xAxisIndex: 0, yAxisIndex: 0, symbol: 'none', itemStyle: { color: '#8d8fca' }, lineStyle: { color: '#8d8fca' } });
series.push({ name: 'NINDS', type: 'line', data: [], xAxisIndex: 0, yAxisIndex: 0, symbol: 'none', itemStyle: { color: '#4aa5c9' }, lineStyle: { color: '#4aa5c9' } });

panels.forEach((p, g) => {
  const r = Math.floor(g / 6), c = g % 6;
  const top = rowTop[r], h = r === 0 ? H + 1 : H;
  grids.push({ left: colLeft[c], top: top, width: W, height: h, show: true, borderColor: '#ababab', borderWidth: 1, backgroundColor: 'transparent' });
  xAxes.push({
    gridIndex: g, type: 'value', min: p.xr[0], max: p.xr[1], position: 'bottom',
    axisLine: { show: false, onZero: false },
    axisTick: { show: true, length: 5, lineStyle: { color: '#8a8a8a' }, customValues: p.xt },
    axisLabel: { customValues: p.xl, margin: 9, fontSize: 12, fontFamily: FONT, color: '#222', formatter: v => Number(v).toFixed(p.xd) },
    splitLine: { show: false }
  });
  yAxes.push({
    gridIndex: g, type: 'value', min: -0.04 * p.M, max: 1.04 * p.M, position: 'left',
    axisLine: { show: false, onZero: false },
    axisTick: { show: true, length: 5, lineStyle: { color: '#8a8a8a' }, customValues: p.yt },
    axisLabel: { customValues: p.yl, rotate: 90, margin: 9, fontSize: 12, fontFamily: FONT, color: '#222', formatter: v => Number(v).toFixed(p.yd) },
    splitLine: { show: false }
  });
  drawOrder.forEach(k => {
    series.push(curve(p.nx, p.n[k], ninColors[k], g, 'NINDS ' + k));
    series.push(curve(p.hx, p.h[k], hopColors[k], g, 'Hopkins ' + k));
  });
});

const graphics = [];
colTitles.forEach((t, i) => {
  const cx = (colLeft[2 * i] + colLeft[2 * i + 1] + W) / 2 - 4;
  graphics.push({ type: 'text', x: cx, y: 20, style: { text: t, fontSize: 17, fontFamily: FONT, fill: '#000', align: 'center', verticalAlign: 'middle' } });
});
rowTitles.forEach((lines, r) => {
  lines.forEach((t, j) => {
    const y = rowLabelY[r] + (j - (lines.length - 1) / 2) * 28;
    graphics.push({ type: 'text', x: 70, y: y, style: { text: t, fontSize: 17, fontFamily: FONT, fill: '#000', align: 'center', verticalAlign: 'middle' } });
  });
});
bottomTitles.forEach((t, c) => {
  graphics.push({ type: 'text', x: colLeft[c] + W / 2, y: 843, style: { text: t, fontSize: 17, fontFamily: FONT, fill: '#000', align: 'center', verticalAlign: 'middle' } });
});

const chart = echarts.init(document.getElementById('chart'), null, { renderer: 'canvas' });
chart.setOption({
  animation: false,
  backgroundColor: '#fff',
  legend: {
    data: ['Hopkins', 'NINDS'], left: 219, top: 56, orient: 'vertical',
    icon: 'rect', itemWidth: 24, itemHeight: 2, itemGap: 7,
    padding: [7, 8, 7, 10], borderColor: '#999', borderWidth: 1, backgroundColor: '#fff',
    selectedMode: false, textStyle: { fontSize: 13, fontFamily: FONT, color: '#222' }
  },
  grid: grids,
  xAxis: xAxes,
  yAxis: yAxes,
  series: series,
  graphic: graphics
});
</script>
</body>
</html>
